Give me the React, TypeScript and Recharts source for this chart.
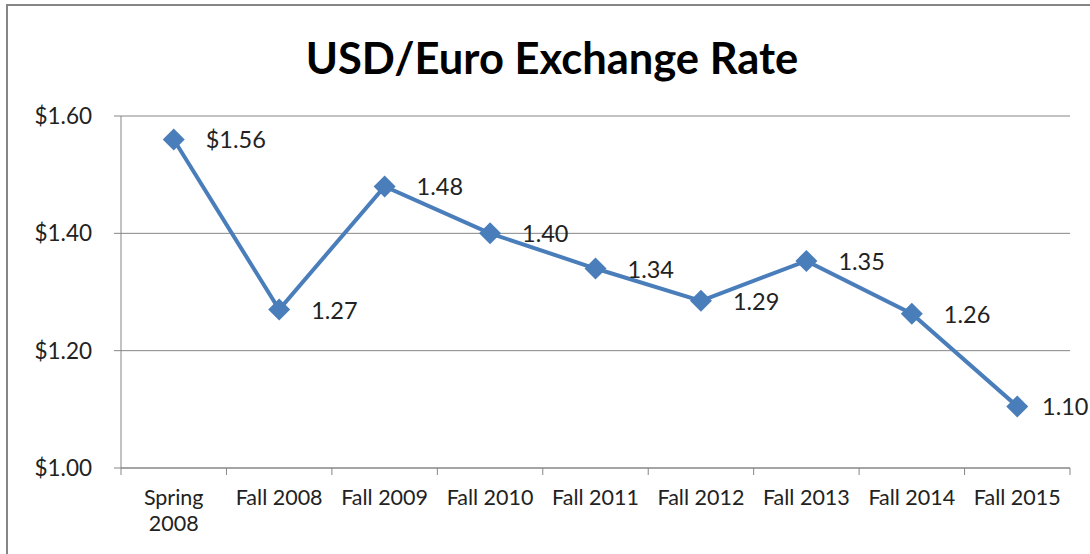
import React from "react";
import { LineChart, Line, XAxis, YAxis, CartesianGrid, LabelList } from "recharts";

const categories = ["Spring 2008", "Fall 2008", "Fall 2009", "Fall 2010", "Fall 2011", "Fall 2012", "Fall 2013", "Fall 2014", "Fall 2015"];
const rates = [1.56, 1.27, 1.48, 1.4, 1.34, 1.285, 1.353, 1.263, 1.105];
const rateLabels = ["$1.56", "1.27", "1.48", "1.40", "1.34", "1.29", "1.35", "1.26", "1.10"];
const yTicks = [1.0, 1.2, 1.4, 1.6];

const data = categories.map((c, i) => ({ name: c, rate: rates[i], label: rateLabels[i] }));

const W = 1090;
const H = 554;
const PLOT_LEFT = 121;
const PLOT_RIGHT = 1070;
const HALF = (PLOT_RIGHT - PLOT_LEFT) / categories.length / 2;
const FONT = "Lato, 'Open Sans', sans-serif";
const GRAY = "#868686";
const BLUE = "#4A7EBB";
const LABEL_SIZE = 23.5;

const XTick = (props: any) => {
  const { x, y, payload, index } = props;
  const words = String(payload.value);
  const lines = words.startsWith("Spring") ? words.split(" ") : [words];
  const top = y - 8;
  return (
    <g>
      <line x1={x - HALF} y1={top} x2={x - HALF} y2={top + 7} stroke={GRAY} strokeWidth={1} />
      {index === categories.length - 1 && (
        <line x1={x + HALF} y1={top} x2={x + HALF} y2={top + 7} stroke={GRAY} strokeWidth={1} />
      )}
      <text x={x} y={top + 37} textAnchor="middle" fill="#222" fontSize={21.5} fontFamily={FONT}>
        {lines.map((l, i) => (
          <tspan key={i} x={x} dy={i === 0 ? 0 : 26}>{l}</tspan>
        ))}
      </text>
    </g>
  );
};

const PointLabel = (props: any) => {
  const { x, y, value } = props;
  const approxW = String(value).length * LABEL_SIZE * 0.5;
  const lx = Math.min(x + 32, W - approxW - 1);
  return (
    <text x={lx} y={y} dominantBaseline="central" textAnchor="start" fill="#222" fontSize={LABEL_SIZE} fontFamily={FONT}>
      {value}
    </text>
  );
};

const Diamond = (props: any) => {
  const { cx, cy } = props;
  const r = 11;
  return <path d={`M${cx},${cy - r}L${cx + r},${cy}L${cx},${cy + r}L${cx - r},${cy}Z`} fill={BLUE} stroke="none" />;
};

export default function App() {
  return (
    <div style={{ position: "absolute", left: 0, top: 0, width: W, height: H, overflow: "hidden", background: "#fff" }}>
      <div style={{ position: "absolute", left: 6, top: 4, width: 1200, height: 700, border: `2px solid ${GRAY}` }} />
      <div
        style={{
          position: "absolute",
          left: 0,
          width: 1104,
          top: 32,
          textAlign: "center",
          fontFamily: FONT,
          fontWeight: 700,
          fontSize: 43.5,
          color: "#000",
          lineHeight: "50px",
        }}
      >
        USD/Euro Exchange Rate
      </div>
      <div style={{ position: "absolute", left: 0, top: 0 }}>
        <LineChart width={W} height={H} data={data} margin={{ top: 116, right: W - PLOT_RIGHT, bottom: 0, left: 0 }}>
          <CartesianGrid vertical={false} stroke={GRAY} strokeWidth={1} />
          <XAxis
            dataKey="name"
            height={86}
            padding={{ left: HALF, right: HALF }}
            axisLine={{ stroke: GRAY }}
            tickLine={false}
            tick={<XTick />}
            interval={0}
          />
          <YAxis
            width={PLOT_LEFT}
            domain={[1, 1.6]}
            ticks={yTicks}
            tickFormatter={(v: number) => `$${v.toFixed(2)}`}
            axisLine={{ stroke: GRAY }}
            tickLine={{ stroke: GRAY }}
            tickSize={7}
            tickMargin={22}
            tick={{ fill: "#222", fontSize: 22.5, fontFamily: FONT }}
          />
          <Line
            type="linear"
            dataKey="rate"
            stroke={BLUE}
            strokeWidth={4}
            dot={<Diamond />}
            activeDot={false}
            isAnimationActive={false}
          >
            <LabelList dataKey="label" content={<PointLabel />} />
          </Line>
        </LineChart>
      </div>
    </div>
  );
}
